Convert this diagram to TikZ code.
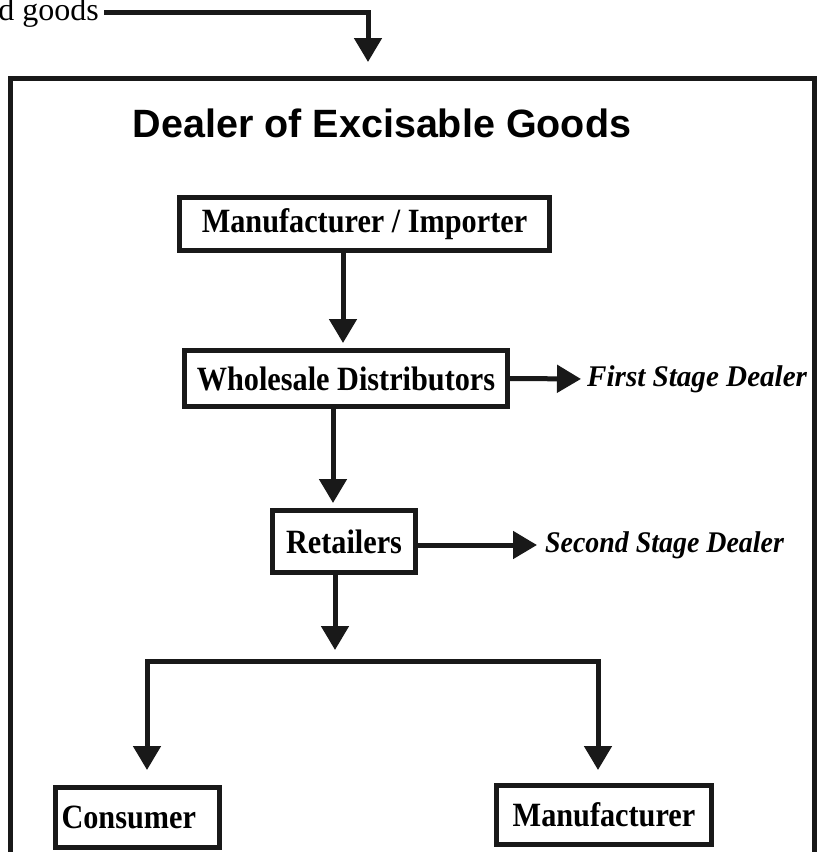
\documentclass[tikz,border=0pt]{standalone}
\usepackage{fontspec}
\setmainfont{Liberation Serif}
\newfontfamily\titlefont{Liberation Sans}
\newfontfamily\boxfont[FakeStretch=0.89]{Liberation Serif}
\newfontfamily\stagefontA[FakeStretch=0.97]{Liberation Serif}
\newfontfamily\stagefontB[FakeStretch=0.93]{Liberation Serif}
\usetikzlibrary{arrows.meta,calc}
\tikzset{
  x=1pt,y=-1pt,
  ln/.style={line width=5pt,line join=miter,draw=black!90},
  arr/.style={ln,-{Triangle[width=27pt,length=24pt]}},
  boxn/.style={draw=black!90,line width=5pt,inner sep=0pt,font=\boxfont\bfseries\fontsize{34}{34}\selectfont},
  stagelbl/.style={inner sep=0pt,anchor=west}
}
\begin{document}
\begin{tikzpicture}
\useasboundingbox (0,0) rectangle (820,852);
% outer frame
\draw[line width=5pt,draw=black!90] (10.5,900) -- (10.5,78.5) -- (814.5,78.5) -- (814.5,900);
% top text
\node[inner sep=0pt,anchor=base east,font=\fontsize{32}{32}\selectfont] (dg) at (99,20) {d goods};
\coordinate (tc) at (368,12);
\coordinate (tt) at (368,62);
\draw[arr] ($(dg.east |- tc)+(5,0)$) -- (tc) -- (tt);
% title
\node[inner sep=0pt,font=\titlefont\bfseries\fontsize{39.5}{39.5}\selectfont] (title) at (382,123) {Dealer of Excisable Goods};
% boxes
\node[boxn,minimum width=370pt,minimum height=53pt] (mi) at (364.5,224) {Manufacturer / Importer};
\node[boxn,minimum width=323pt,minimum height=56pt] (wd) at (346,378.5) {Wholesale Distributors};
\node[boxn,minimum width=143pt,minimum height=62pt] (ret) at (344,541.5) {Retailers};
\node[boxn,minimum width=164pt,minimum height=60pt,text width=152pt,align=left] (con) at (137.5,817.5) {Consumer};
\node[boxn,minimum width=215pt,minimum height=59pt] (man) at (604,815) {Manufacturer};
% stage labels
\node[stagelbl,font=\stagefontA\bfseries\itshape\fontsize{30}{30}\selectfont] (fsd) at (587,379) {First Stage Dealer};
\node[stagelbl,font=\stagefontB\bfseries\itshape\fontsize{30}{30}\selectfont] (ssd) at (545,545) {Second Stage Dealer};
% connectors
\draw[arr,shorten >=5pt] (343,0 |- mi.south) -- (343,0 |- wd.north);
\draw[arr,shorten >=6pt] (wd.east) -- (fsd.west);
\draw[arr,shorten >=5pt] (333,0 |- wd.south) -- (333,0 |- ret.north);
\draw[arr,shorten >=8pt] (ret.east |- ssd.west) -- (ssd.west);
\coordinate (jt) at (335,650);
\coordinate (jl) at (147,661);
\coordinate (jr) at (598,661);
\draw[arr] (335,0 |- ret.south) -- (jt);
\draw[arr,shorten >=15pt] (jr) -- (jl) -- (jl |- con.north);
\draw[arr,shorten >=13pt] (jl) -- (jr) -- (jr |- man.north);
\end{tikzpicture}
\end{document}
